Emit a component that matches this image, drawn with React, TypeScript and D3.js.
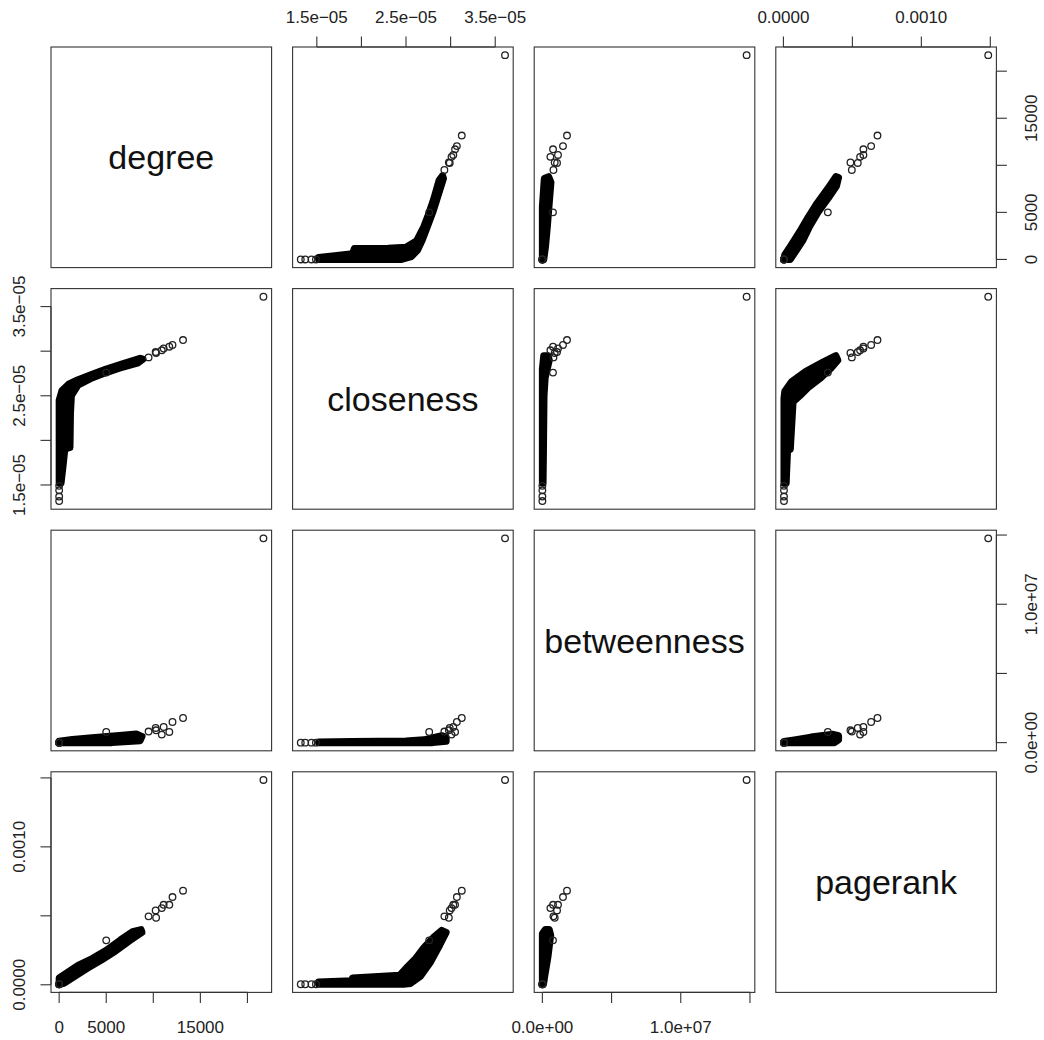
import React from "react";
import * as d3 from "d3";

// Network centrality measures shown as a scatterplot matrix
const variables = ["degree", "closeness", "betweenness", "pagerank"];

// Individually visible nodes: the high-centrality tail and the isolated low-closeness nodes
const nodeDegree = [21700, 13160, 12040, 11700, 11100, 10900, 10250, 10300, 9500, 5000, 1, 1, 1, 1];
const nodeCloseness = [3.61e-5, 3.125e-5, 3.07e-5, 3.05e-5, 3.03e-5, 3.01e-5, 2.99e-5, 2.98e-5, 2.93e-5, 2.76e-5, 1.32e-5, 1.37e-5, 1.44e-5, 1.49e-5];
const nodeBetweenness = [1.476e7, 1.78e6, 1.49e6, 7.7e5, 1.13e6, 5.8e5, 1.06e6, 8.9e5, 8.0e5, 7.67e5, 0, 0, 0, 0];
const nodePagerank = [1.485e-3, 6.82e-4, 6.36e-4, 5.8e-4, 5.8e-4, 5.56e-4, 5.39e-4, 4.86e-4, 4.96e-4, 3.22e-4, 4e-6, 4e-6, 4e-6, 4e-6];

// Outlines of the saturated bulk of the point cloud for each pair of measures,
// as [first measure, second measure] in data units (circle centres on the rim)
const cloudDegreeCloseness: [number, number][] = [
  [1, 1.52e-5], [1, 2.25e-5], [1, 2.45e-5], [300, 2.56e-5], [1000, 2.63e-5], [2000, 2.68e-5],
  [3500, 2.74e-5], [5000, 2.8e-5], [6800, 2.86e-5], [8600, 2.92e-5], [8900, 2.91e-5],
  [8400, 2.87e-5], [6400, 2.81e-5], [5000, 2.76e-5], [3500, 2.7e-5], [2000, 2.62e-5],
  [1300, 2.5e-5], [1200, 2.3e-5], [1150, 1.92e-5], [600, 1.9e-5], [400, 1.7e-5], [200, 1.52e-5],
];
const cloudDegreeBetweenness: [number, number][] = [
  [1, 0], [5600, 0], [8600, 1.4e5], [8800, 4.5e5], [8200, 6.2e5], [6400, 5.2e5],
  [3500, 3.6e5], [1400, 2.3e5], [1, 1e5],
];
const cloudDegreePagerank: [number, number][] = [
  [1, 5e-5], [1000, 9.5e-5], [2000, 1.4e-4], [3500, 1.9e-4], [5000, 2.5e-4], [6500, 3.25e-4],
  [7800, 3.85e-4], [8700, 4.0e-4], [8800, 3.8e-4], [7500, 3.2e-4], [6000, 2.45e-4],
  [4500, 1.8e-4], [3000, 1.2e-4], [1500, 5.5e-5], [500, 1e-5], [1, 4e-6],
];
const cloudClosenessBetweenness: [number, number][] = [
  [1.52e-5, 0], [2.8e-5, 0], [2.95e-5, 1e5], [2.95e-5, 4e5], [2.9e-5, 5e5], [2.7e-5, 2e5],
  [2.5e-5, 1.2e5], [1.9e-5, 8e4], [1.52e-5, 5e4],
];
const cloudClosenessPagerank: [number, number][] = [
  [1.52e-5, 4e-6], [1.52e-5, 2e-5], [1.89e-5, 3e-5], [1.9e-5, 5e-5], [2.43e-5, 7e-5],
  [2.5e-5, 1.2e-4], [2.6e-5, 1.85e-4], [2.7e-5, 2.7e-4], [2.81e-5, 3.45e-4], [2.9e-5, 3.95e-4],
  [2.95e-5, 3.8e-4], [2.88e-5, 2.9e-4], [2.77e-5, 1.6e-4], [2.66e-5, 6e-5], [2.55e-5, 1e-5],
  [2.47e-5, 4e-6],
];
const cloudBetweennessPagerank: [number, number][] = [
  [0, 4e-6], [0, 3.7e-4], [2e5, 4.0e-4], [5e5, 4.0e-4], [6e5, 3.6e-4], [4e5, 2e-4],
  [2e5, 8e-5], [8e4, 4e-6],
];

const degreeTicks = [0, 5000, 10000, 15000, 20000];
const degreeTickLabels = ["0", "5000", "", "15000", ""];
const closenessTicks = [1.5e-5, 2e-5, 2.5e-5, 3e-5, 3.5e-5];
const closenessTickLabels = ["1.5e\u221205", "", "2.5e\u221205", "", "3.5e\u221205"];
const betweennessTicks = [0, 5e6, 1e7, 1.5e7];
const betweennessTickLabels = ["0.0e+00", "", "1.0e+07", ""];
const pagerankTicks = [0, 0.0005, 0.001, 0.0015];
const pagerankTickLabels = ["0.0000", "", "0.0010", ""];

const nodeColumns = [nodeDegree, nodeCloseness, nodeBetweenness, nodePagerank];
const tickValues = [degreeTicks, closenessTicks, betweennessTicks, pagerankTicks];
const tickLabels = [degreeTickLabels, closenessTickLabels, betweennessTickLabels, pagerankTickLabels];
const clouds: Record<string, [number, number][]> = {
  "0-1": cloudDegreeCloseness,
  "0-2": cloudDegreeBetweenness,
  "0-3": cloudDegreePagerank,
  "1-2": cloudClosenessBetweenness,
  "1-3": cloudClosenessPagerank,
  "2-3": cloudBetweennessPagerank,
};

const W = 1044;
const H = 1040;
const LEFT = 51;
const TOP = 47;
const SIZE = 220.6;
const GAP = 21;
const FONT = "'Liberation Sans', Arial, Helvetica, sans-serif";
const INK = "#222";
const TICK = 10.5;

function extentOf(k: number): [number, number] {
  const vals: number[] = [...nodeColumns[k]];
  Object.entries(clouds).forEach(([key, pts]) => {
    const [a, b] = key.split("-").map(Number);
    if (a === k) pts.forEach((p) => vals.push(p[0]));
    if (b === k) pts.forEach((p) => vals.push(p[1]));
  });
  const [lo, hi] = d3.extent(vals) as [number, number];
  const pad = (hi - lo) * 0.04;
  return [lo - pad, hi + pad];
}

export default function App() {
  const pos = (i: number) => i * (SIZE + GAP);
  const xScales = variables.map((_, k) =>
    d3.scaleLinear().domain(extentOf(k)).range([LEFT + pos(k), LEFT + pos(k) + SIZE])
  );
  const yScales = variables.map((_, k) =>
    d3.scaleLinear().domain(extentOf(k)).range([TOP + pos(k) + SIZE, TOP + pos(k)])
  );

  const panels: React.ReactNode[] = [];
  for (let r = 0; r < 4; r++) {
    for (let c = 0; c < 4; c++) {
      const x0 = LEFT + pos(c);
      const y0 = TOP + pos(r);
      const items: React.ReactNode[] = [];
      if (r === c) {
        items.push(
          <text key="lab" x={x0 + SIZE / 2} y={y0 + SIZE / 2 + 12} textAnchor="middle"
            fontSize={34} fill="#111" fontFamily={FONT}>{variables[r]}</text>
        );
      } else {
        const xs = xScales[c];
        const ys = yScales[r];
        const a = Math.min(r, c);
        const b = Math.max(r, c);
        const cloud = clouds[`${a}-${b}`];
        const xy = cloud.map((p) => (c === a ? [p[0], p[1]] : [p[1], p[0]]));
        const line = d3.line<number[]>().x((d) => xs(d[0])).y((d) => ys(d[1])).curve(d3.curveLinearClosed);
        items.push(
          <path key="cloud" d={line(xy) || ""} fill="#000" stroke="#000" strokeWidth={7}
            strokeLinejoin="round" />
        );
        nodeDegree.forEach((_, i) => {
          items.push(
            <circle key={`n${i}`} cx={xs(nodeColumns[c][i])} cy={ys(nodeColumns[r][i])} r={3.3}
              fill="none" stroke="#222" strokeWidth={1.3} />
          );
        });
      }
      items.push(
        <rect key="frame" x={x0} y={y0} width={SIZE} height={SIZE} fill="none" stroke="#333" strokeWidth={1.1} />
      );
      panels.push(<g key={`p${r}-${c}`}>{items}</g>);
    }
  }

  const axes: React.ReactNode[] = [];
  for (let k = 0; k < 4; k++) {
    const ticks = tickValues[k];
    const labels = tickLabels[k];
    // horizontal axes: odd columns on top, even columns at the bottom
    const xs = xScales[k];
    const onTop = k % 2 === 1;
    const ay = onTop ? TOP : TOP + pos(3) + SIZE;
    const dir = onTop ? -1 : 1;
    axes.push(
      <g key={`xa${k}`} stroke="#333" strokeWidth={1.1}>
        <line x1={xs(ticks[0])} x2={xs(ticks[ticks.length - 1])} y1={ay} y2={ay} />
        {ticks.map((t, i) => (
          <line key={i} x1={xs(t)} x2={xs(t)} y1={ay} y2={ay + dir * TICK} />
        ))}
      </g>
    );
    ticks.forEach((t, i) => {
      if (!labels[i]) return;
      axes.push(
        <text key={`xl${k}-${i}`} x={xs(t)} y={onTop ? 23 : 1033} textAnchor="middle" fontSize={17}
          fill={INK} fontFamily={FONT}>{labels[i]}</text>
      );
    });
    // vertical axes: even rows on the right, odd rows on the left
    const ys = yScales[k];
    const onRight = k % 2 === 0;
    const ax = onRight ? LEFT + pos(3) + SIZE : LEFT;
    const hdir = onRight ? 1 : -1;
    axes.push(
      <g key={`ya${k}`} stroke="#333" strokeWidth={1.1}>
        <line y1={ys(ticks[0])} y2={ys(ticks[ticks.length - 1])} x1={ax} x2={ax} />
        {ticks.map((t, i) => (
          <line key={i} y1={ys(t)} y2={ys(t)} x1={ax} x2={ax + hdir * TICK} />
        ))}
      </g>
    );
    ticks.forEach((t, i) => {
      if (!labels[i]) return;
      const bx = onRight ? 1036.5 : 25;
      axes.push(
        <text key={`yl${k}-${i}`} transform={`translate(${bx},${ys(t)}) rotate(-90)`} textAnchor="middle"
          fontSize={17} fill={INK} fontFamily={FONT}>{labels[i]}</text>
      );
    });
  }

  return (
    <svg width={W} height={H} style={{ position: "absolute", left: 0, top: 0, background: "#fff" }}>
      <rect width={W} height={H} fill="#fff" />
      {panels}
      {axes}
    </svg>
  );
}
